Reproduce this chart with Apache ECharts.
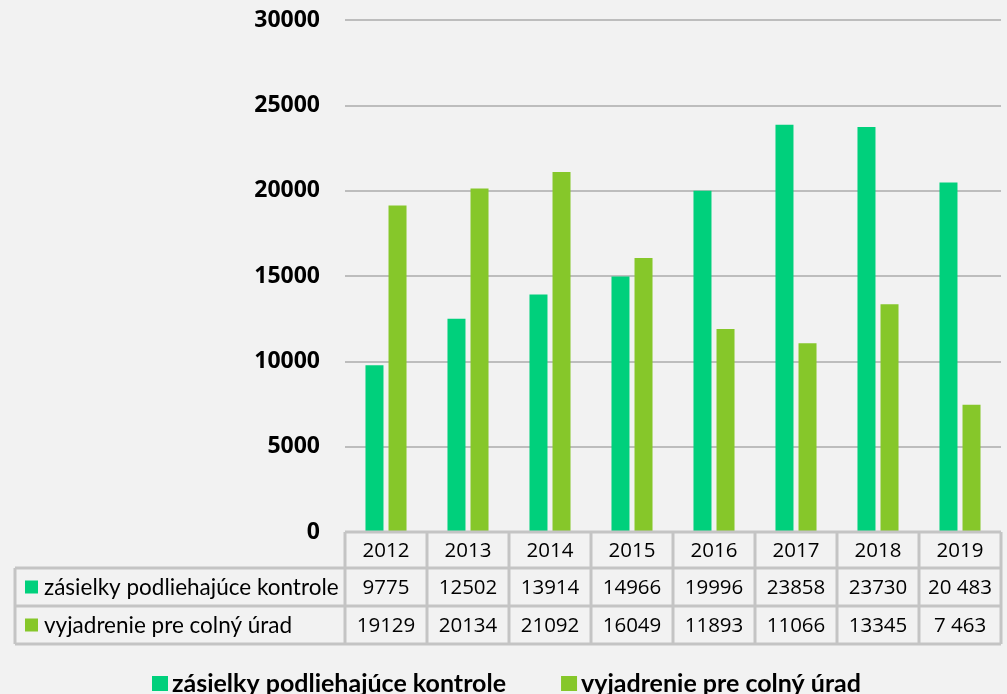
<!DOCTYPE html>
<html><head><meta charset="utf-8">
<script src="https://cdn.jsdelivr.net/npm/echarts@6/dist/echarts.min.js"></script>
<style>html,body{margin:0;padding:0;background:#f2f2f2;overflow:hidden}#c{width:1007px;height:694px}</style>
</head><body><div id="c"></div>
<script>
const categories = ['2012','2013','2014','2015','2016','2017','2018','2019'];
const seriesNames = ['zásielky podliehajúce kontrole','vyjadrenie pre colný úrad'];
const kontrole = [9775,12502,13914,14966,19996,23858,23730,20483];
const vyjadrenie = [19129,20134,21092,16049,11893,11066,13345,7463];
const kontroleLabels = ['9775','12502','13914','14966','19996','23858','23730','20 483'];
const vyjadrenieLabels = ['19129','20134','21092','16049','11893','11066','13345','7 463'];
const yMin = 0, yMax = 30000, yStep = 5000;
const colors = ['#00D07C','#86C72A'];
const TFONT = 'Lato, "Open Sans", sans-serif';
const NFONT = '"Open Sans", Lato, sans-serif';

const chart = echarts.init(document.getElementById('c'));
chart.setOption({
  backgroundColor:'#f2f2f2',
  animation:false,
  grid:{left:345,right:6,top:20,bottom:162},
  legend:{top:666,left:147,icon:'rect',itemWidth:16,itemHeight:15,itemGap:55,
    textStyle:{fontFamily:TFONT,fontWeight:'bold',fontSize:25,color:'#000',padding:[0,0,0,-1]},
    data:seriesNames},
  xAxis:{type:'category',data:categories,axisLine:{show:false},axisTick:{show:false},axisLabel:{show:false}},
  yAxis:{type:'value',min:yMin,max:yMax,interval:yStep,
    axisLine:{show:false},axisTick:{show:false},
    axisLabel:{margin:25,fontFamily:NFONT,fontWeight:'bold',fontSize:23,color:'#000',formatter:v=>String(v)},
    splitLine:{lineStyle:{color:'#bdbdbd',width:2}}},
  series:[
    {name:seriesNames[0],type:'bar',data:kontrole,barWidth:18,barGap:'28%',itemStyle:{color:colors[0]}},
    {name:seriesNames[1],type:'bar',data:vyjadrenie,barWidth:18,itemStyle:{color:colors[1]}}
  ]
});

// Data table under the axis, positioned from the axis scale
const c0 = chart.convertToPixel({xAxisIndex:0}, 0);
const c1 = chart.convertToPixel({xAxisIndex:0}, 1);
const bw = c1 - c0;
const yTop = chart.convertToPixel({yAxisIndex:0}, yMin);
const rowH = [36, 38, 38];
const rowsY = [yTop, yTop+rowH[0], yTop+rowH[0]+rowH[1], yTop+rowH[0]+rowH[1]+rowH[2]];
const tableLeft = 15;
const colLeft = c0 - bw/2;
const colRight = chart.convertToPixel({xAxisIndex:0}, categories.length-1) + bw/2;
const lineColor = '#c4c4c4';
const els = [];
function line(x1,y1,x2,y2){els.push({type:'line',shape:{x1,y1,x2,y2},style:{stroke:lineColor,lineWidth:3},z:10});}
function text(t,x,y,align,font){els.push({type:'text',z:11,style:{text:t,x,y,fill:'#000',font:font,align:align||'center',verticalAlign:'middle',textAlign:align||'center',textVerticalAlign:'middle'}});}
line(colLeft, rowsY[0], colRight, rowsY[0]);
for (let r=1;r<4;r++) line(tableLeft, rowsY[r], colRight, rowsY[r]);
line(tableLeft, rowsY[1], tableLeft, rowsY[3]);
for (let i=0;i<=categories.length;i++){ const x = colLeft + i*bw; line(x, rowsY[0], x, rowsY[3]); }
const rowsData = [kontroleLabels, vyjadrenieLabels];
const numFont = '20.5px ' + NFONT;
categories.forEach((cat,i)=>{
  const x = chart.convertToPixel({xAxisIndex:0}, i);
  text(cat, x, (rowsY[0]+rowsY[1])/2+1, 'center', numFont);
  rowsData.forEach((arr,r)=> text(arr[i], x, (rowsY[r+1]+rowsY[r+2])/2+1, 'center', numFont));
});
seriesNames.forEach((n,r)=>{
  const yc = (rowsY[r+1]+rowsY[r+2])/2;
  els.push({type:'rect',z:11,shape:{x:25,y:yc-6.5,width:13,height:13},style:{fill:colors[r]}});
  text(n, 44, yc+1, 'left', '22.5px ' + TFONT);
});
chart.setOption({graphic:els});
</script></body></html>
